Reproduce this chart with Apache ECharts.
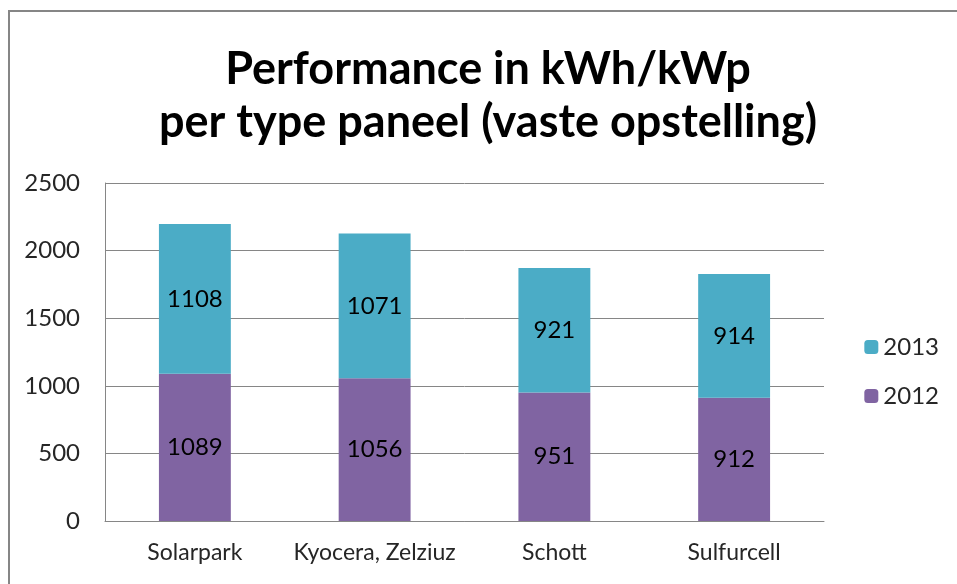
<!DOCTYPE html>
<html>
<head>
<meta charset="utf-8">
<script src="https://cdn.jsdelivr.net/npm/echarts@6/dist/echarts.min.js"></script>
<style>
  html, body { margin: 0; padding: 0; background: #fff; }
  #chart { width: 957px; height: 584px; }
</style>
</head>
<body>
<div id="chart"></div>
<script>
// data
const categories = ['Solarpark', 'Kyocera, Zelziuz', 'Schott', 'Sulfurcell'];
const values2012 = [1089, 1056, 951, 912];
const values2013 = [1108, 1071, 921, 914];
const yTicks = { min: 0, max: 2500, interval: 500 };

const font = 'Lato, "Open Sans", sans-serif';

const chart = echarts.init(document.getElementById('chart'));
chart.setOption({
    animation: false,
    backgroundColor: '#fff',
    graphic: [{
        type: 'rect',
        z: 100,
        silent: true,
        shape: { x: 9, y: 11, width: 1000, height: 700 },
        style: { fill: 'none', stroke: '#868686', lineWidth: 2 }
    }],
    title: {
        text: 'Performance in kWh/kWp\nper type paneel (vaste opstelling)',
        left: 488,
        top: 43,
        padding: 0,
        textAlign: 'center',
        textStyle: {
            fontFamily: font,
            fontWeight: 'bold',
            fontSize: 45,
            lineHeight: 53,
            color: '#000'
        }
    },
    grid: { left: 105, right: 133, top: 183, bottom: 63 },
    legend: {
        orient: 'vertical',
        right: 13,
        top: 330,
        itemGap: 25,
        itemWidth: 14,
        itemHeight: 14,
        data: ['2013', '2012'],
        textStyle: { fontFamily: font, fontSize: 24, color: '#262626' }
    },
    xAxis: {
        type: 'category',
        data: categories,
        axisLine: { lineStyle: { color: '#868686' } },
        axisTick: { show: false },
        axisLabel: { interval: 0, hideOverlap: false, fontFamily: font, fontSize: 23, color: '#262626', margin: 20 }
    },
    yAxis: {
        type: 'value',
        min: yTicks.min,
        max: yTicks.max,
        interval: yTicks.interval,
        axisLine: { show: true, lineStyle: { color: '#868686' } },
        axisTick: { show: false },
        axisLabel: { fontFamily: font, fontSize: 24, color: '#262626', margin: 25, formatter: v => String(v) },
        splitLine: { lineStyle: { color: '#868686' } }
    },
    series: [
        {
            name: '2012',
            type: 'bar',
            stack: 'total',
            barWidth: '40%',
            data: values2012,
            itemStyle: { color: '#8064A2' },
            label: { show: true, position: 'inside', fontFamily: font, fontSize: 24, color: '#000' }
        },
        {
            name: '2013',
            type: 'bar',
            stack: 'total',
            barWidth: '40%',
            data: values2013,
            itemStyle: { color: '#4BACC6' },
            label: { show: true, position: 'inside', fontFamily: font, fontSize: 24, color: '#000' }
        }
    ]
});
</script>
</body>
</html>
